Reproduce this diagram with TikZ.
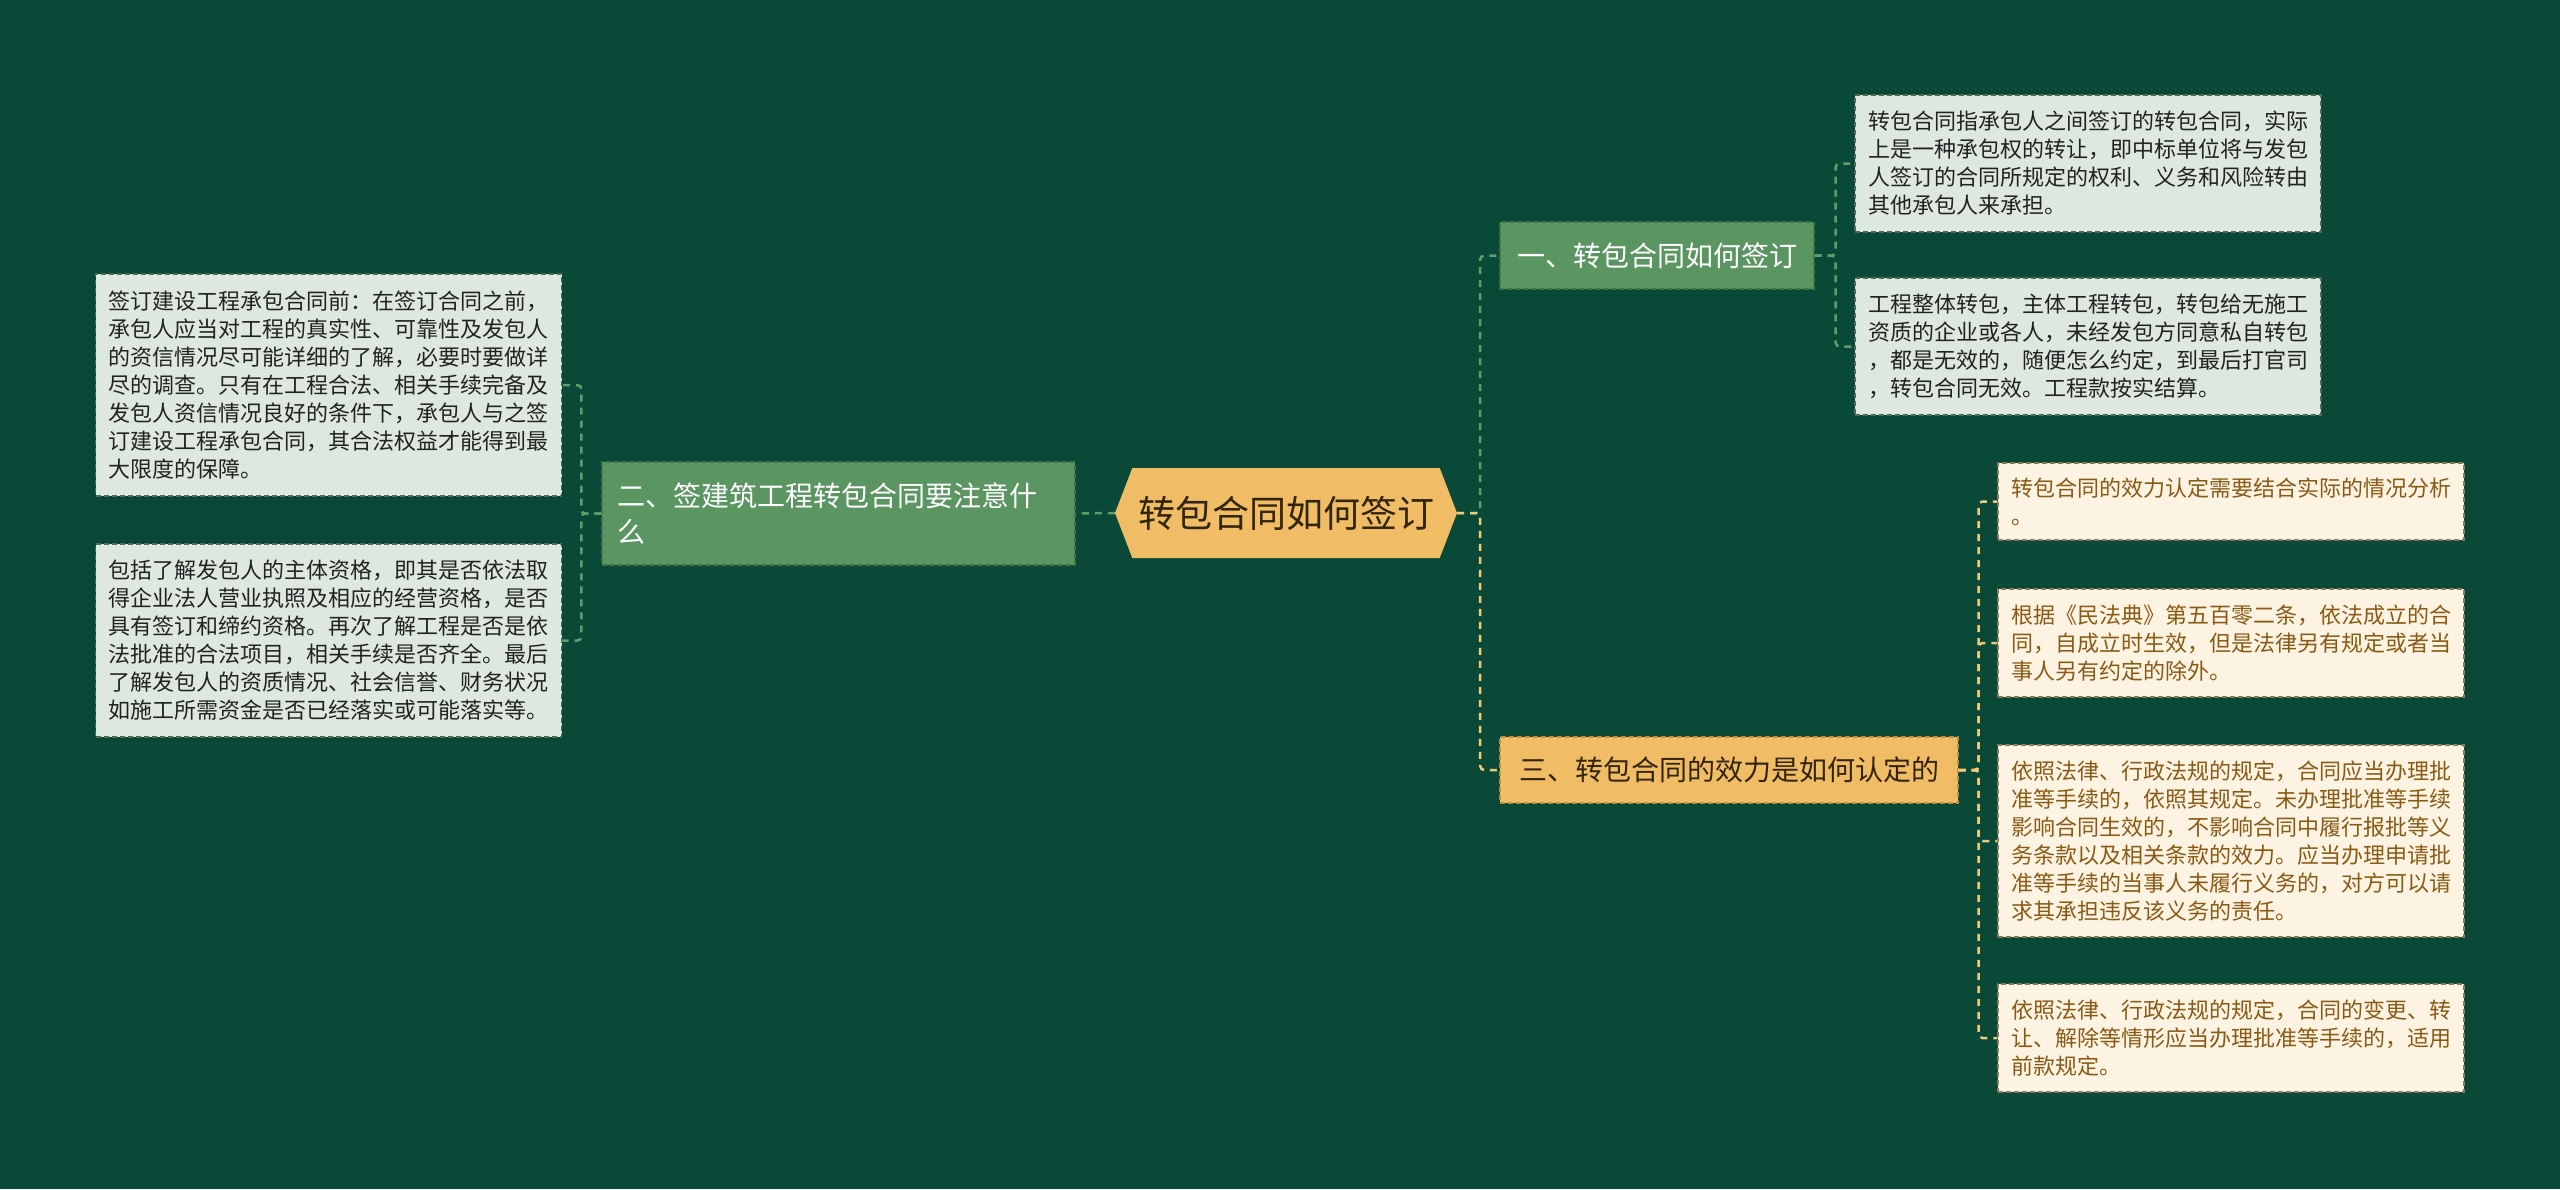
\documentclass[tikz,border=0pt]{standalone}
\usepackage{fontspec}
\setmainfont{Noto Sans CJK SC}
\usetikzlibrary{shapes.symbols}
\definecolor{mmBg}{HTML}{0A4838}
\definecolor{mmGreen}{HTML}{5A9562}
\definecolor{mmGreenDk}{HTML}{3E7446}
\definecolor{mmLine}{HTML}{5E9F69}
\definecolor{mmGold}{HTML}{F0BC65}
\definecolor{mmGoldDk}{HTML}{C38E3A}
\definecolor{mmLineY}{HTML}{EFCB78}
\definecolor{mmMint}{HTML}{DDE8DE}
\definecolor{mmMintDk}{HTML}{4F6B58}
\definecolor{mmCream}{HTML}{FCF3E3}
\definecolor{mmCreamDk}{HTML}{8C7A5A}
\definecolor{mmInk}{HTML}{222222}
\definecolor{mmBrown}{HTML}{8A5A14}
\definecolor{mmDark}{HTML}{33240C}
\tikzset{
  note/.style={
    draw=mmMintDk, fill=mmMint, line width=1.2pt, dash pattern=on 5pt off 3pt,
    text=mmInk, font=\fontsize{22}{28}\selectfont, align=left,
    text width=440pt, inner xsep=13pt, inner ysep=0pt
  },
  noteo/.style={note, draw=mmCreamDk, fill=mmCream, text=mmBrown},
  branchg/.style={
    draw=mmGreenDk, fill=mmGreen, line width=1.2pt, dash pattern=on 5pt off 3pt,
    text=white, font=\fontsize{28}{36}\selectfont, align=left, inner xsep=15pt
  },
  brancho/.style={branchg, draw=mmGoldDk, fill=mmGold, text=mmDark},
  hub/.style={
    signal, signal to=east and west, signal pointer angle=138,
    fill=mmGold, text=mmDark, font=\fontsize{37}{44}\selectfont,
    minimum width=342pt, minimum height=90pt, inner sep=0pt
  },
  linkg/.style={draw=mmLine, line width=2.5pt, dash pattern=on 7pt off 6pt, rounded corners=4pt},
  linko/.style={linkg, draw=mmLineY},
}
\begin{document}
\begin{tikzpicture}[x=1pt, y=-1pt]
  \fill[mmBg] (0,0) rectangle (2560,1189);
  \useasboundingbox (0,0) rectangle (2560,1189);

  \node[hub] (hub) at (1286,513) {转包合同如何签订};

  \node[branchg, text width=443pt, minimum height=103pt] (b2) at (838.5,513.5) {二、签建筑工程转包合同要注意什\\么};
  \node[branchg, minimum width=314pt, minimum height=67pt] (b1) at (1657,255.5) {一、转包合同如何签订};
  \node[brancho, minimum width=458pt, minimum height=66pt] (b3) at (1729,770) {三、转包合同的效力是如何认定的};

  \node[note, minimum height=222pt] (l1) at (328.5,385) {签订建设工程承包合同前：在签订合同之前，\\承包人应当对工程的真实性、可靠性及发包人\\的资信情况尽可能详细的了解，必要时要做详\\尽的调查。只有在工程合法、相关手续完备及\\发包人资信情况良好的条件下，承包人与之签\\订建设工程承包合同，其合法权益才能得到最\\大限度的保障。};
  \node[note, minimum height=193pt] (l2) at (328.5,640.5) {包括了解发包人的主体资格，即其是否依法取\\得企业法人营业执照及相应的经营资格，是否\\具有签订和缔约资格。再次了解工程是否是依\\法批准的合法项目，相关手续是否齐全。最后\\了解发包人的资质情况、社会信誉、财务状况\\如施工所需资金是否已经落实或可能落实等。};

  \node[note, minimum height=137pt] (r1a) at (2088,163.5) {转包合同指承包人之间签订的转包合同，实际\\上是一种承包权的转让，即中标单位将与发包\\人签订的合同所规定的权利、义务和风险转由\\其他承包人来承担。};
  \node[note, minimum height=137pt] (r1b) at (2088,346.5) {工程整体转包，主体工程转包，转包给无施工\\资质的企业或各人，未经发包方同意私自转包\\，都是无效的，随便怎么约定，到最后打官司\\，转包合同无效。工程款按实结算。};

  \node[noteo, minimum height=77pt] (r3a) at (2231,501.5) {转包合同的效力认定需要结合实际的情况分析\\。};
  \node[noteo, minimum height=108pt] (r3b) at (2231,643) {根据《民法典》第五百零二条，依法成立的合\\同，自成立时生效，但是法律另有规定或者当\\事人另有约定的除外。};
  \node[noteo, minimum height=192pt] (r3c) at (2231,841) {依照法律、行政法规的规定，合同应当办理批\\准等手续的，依照其规定。未办理批准等手续\\影响合同生效的，不影响合同中履行报批等义\\务条款以及相关条款的效力。应当办理申请批\\准等手续的当事人未履行义务的，对方可以请\\求其承担违反该义务的责任。};
  \node[noteo, minimum height=108pt] (r3d) at (2231,1038) {依照法律、行政法规的规定，合同的变更、转\\让、解除等情形应当办理批准等手续的，适用\\前款规定。};

  \draw[linkg] (hub.west) -- (b2.east);
  \draw[linkg] (hub.east) -- ++(23,0) |- (b1.west);
  \draw[linko] (hub.east) -- ++(23,0) |- (b3.west);
  \draw[linkg] (b2.west) -- ++(-20,0) |- (l1.east);
  \draw[linkg] (b2.west) -- ++(-20,0) |- (l2.east);
  \draw[linkg] (b1.east) -- ++(21,0) |- (r1a.west);
  \draw[linkg] (b1.east) -- ++(21,0) |- (r1b.west);
  \draw[linko] (b3.east) -- ++(20,0) |- (r3a.west);
  \draw[linko] (b3.east) -- ++(20,0) |- (r3b.west);
  \draw[linko] (b3.east) -- ++(20,0) |- (r3c.west);
  \draw[linko] (b3.east) -- ++(20,0) |- (r3d.west);
\end{tikzpicture}
\end{document}
